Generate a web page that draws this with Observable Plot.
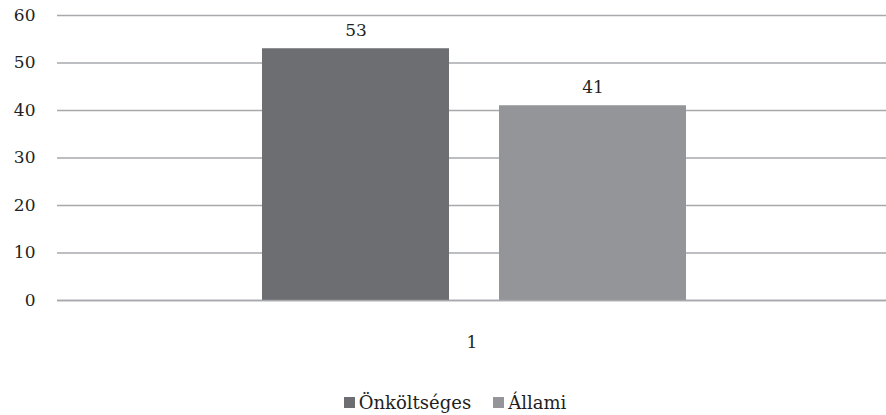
<!DOCTYPE html>
<html>
<head>
<meta charset="utf-8">
<script src="https://cdn.jsdelivr.net/npm/d3@7"></script>
<script src="https://cdn.jsdelivr.net/npm/@observablehq/plot@0.6"></script>
<style>
  html, body { margin: 0; padding: 0; background: #fff; }
  body { width: 886px; height: 415px; overflow: hidden; font-family: 'DejaVu Serif', serif; }
  #legend { display: flex; justify-content: center; align-items: center; gap: 22px; font-size: 18px; color: #231f20; margin-left: 24px; margin-top: 17px; }
  #legend .item { display: flex; align-items: center; gap: 4px; }
  #legend .sw { width: 11px; height: 11px; display: inline-block; }
</style>
</head>
<body>
<div id="chart"></div>
<div id="legend"></div>
<script>
const categories = ["1"];
const series = ["Önköltséges", "Állami"];
const values = [53, 41];
const colors = ["#6d6e71", "#939598"];
const yTicks = [0, 10, 20, 30, 40, 50, 60];

const data = series.map((s, i) => ({cat: categories[0], series: s, value: values[i]}));

const chart = Plot.plot({
  width: 886,
  height: 375,
  marginTop: 15,
  marginBottom: 75,
  marginLeft: 57,
  marginRight: 0,
  style: {fontFamily: "'DejaVu Serif', serif", fontSize: "17px", color: "#231f20", background: "#fff"},
  fx: {domain: categories, padding: 0, label: null, axis: "bottom", tickSize: 0, tickPadding: 35},
  x: {domain: series, paddingInner: 0.21, paddingOuter: 0.847, align: 0.507, axis: null},
  y: {domain: [0, 60], ticks: yTicks, label: null, tickSize: 0, tickPadding: 22},
  color: {domain: series, range: colors},
  marks: [
    Plot.ruleY(yTicks, {stroke: "#a7a9ac", strokeWidth: 1.3}),
    Plot.barY(data, {fx: "cat", x: "series", y: "value", fill: "series"}),
    Plot.text(data, {fx: "cat", x: "series", y: "value", text: d => String(d.value), dy: -18, fill: "#231f20", fontSize: 17}),
    Plot.ruleY([0], {stroke: "#a7a9ac", strokeWidth: 1.3})
  ]
});
document.getElementById("chart").appendChild(chart);

const legend = d3.select("#legend");
series.forEach((s, i) => {
  const item = legend.append("div").attr("class", "item");
  item.append("span").attr("class", "sw").style("background", colors[i]);
  item.append("span").text(s);
});
</script>
</body>
</html>
